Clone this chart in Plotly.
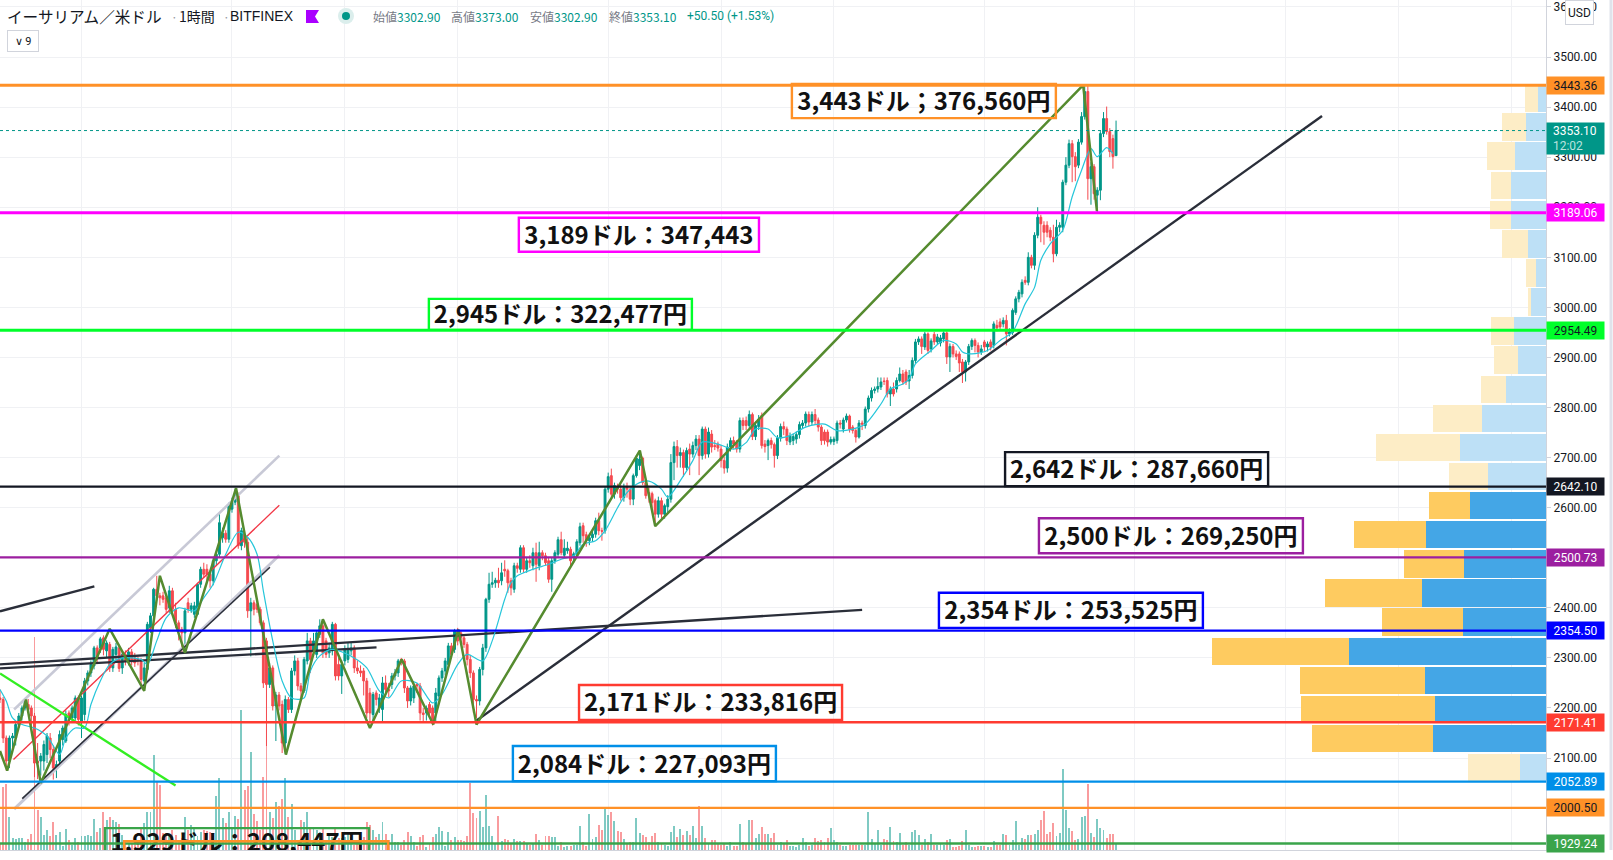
import plotly.graph_objects as go

# ---------------------------------------- CANDLES (1h, ETH/USD) ----------------------------------------
opens = [
    2220,2217,2140,2094,2140,2140,2167,2184,2200,2207, 2200,2184,2094,2094,2094,2107,2140,2117,2080,2094,
    2137,2134,2190,2180,2180,2220,2174,2187,2254,2270, 2284,2320,2320,2340,2314,2327,2280,2307,2320,2280,
    2307,2294,2312,2300,2297,2294,2254,2277,2360,2384, 2437,2424,2424,2420,2400,2434,2397,2370,2357,2350,
    2410,2397,2387,2387,2447,2477,2477,2467,2454,2494, 2507,2540,2549,2537,2597,2611,2624,2524,2547,2531,
    2394,2410,2407,2397,2370,2334,2247,2280,2204,2226, 2207,2130,2217,2197,2274,2294,2244,2234,2294,2334,
    2314,2307,2347,2364,2334,2310,2314,2367,2287,2264, 2294,2297,2314,2320,2280,2274,2274,2254,2230,2187,
    2230,2200,2197,2250,2237,2247,2264,2270,2297,2294, 2240,2214,2220,2247,2244,2190,2190,2207,2200,2190,
    2224,2260,2274,2287,2324,2317,2354,2350,2340,2327, 2297,2270,2217,2214,2277,2320,2417,2447,2450,2455,
    2454,2477,2474,2454,2437,2484,2477,2520,2477,2494, 2484,2510,2484,2510,2504,2494,2457,2494,2507,2536,
    2505,2514,2517,2500,2508,2530,2564,2546,2534,2540, 2547,2574,2554,2554,2637,2664,2627,2642,2637,2620,
    2642,2637,2617,2664,2684,2699,2650,2630,2628,2614, 2587,2614,2587,2602,2617,2690,2722,2704,2710,2680,
    2717,2707,2724,2737,2704,2757,2707,2747,2724,2727, 2717,2694,2679,2721,2734,2729,2717,2774,2774,2764,
    2786,2742,2762,2784,2727,2724,2734,2726,2704,2739, 2762,2757,2731,2734,2737,2746,2764,2769,2786,2771,
    2786,2775,2761,2751,2751,2731,2732,2734,2769,2757, 2775,2783,2761,2754,2741,2769,2764,2797,2819,2834,
    2837,2841,2853,2854,2827,2837,2837,2854,2867,2871, 2853,2864,2894,2931,2937,2921,2947,2917,2946,2931,
    2929,2937,2949,2901,2922,2907,2907,2891,2871,2891, 2922,2934,2924,2911,2931,2921,2931,2924,2964,2971,
    2967,2974,2947,2950,2990,3017,3027,3054,3050,3100, 3084,3144,3180,3164,3164,3154,3140,3107,3160,3160,
    3250,3284,3327,3301,3284,3330,3381,3431,3257,3281, 3224,3234,3347,3377,3351,3337,3302.9]
closes = [
    2217,2140,2094,2140,2144,2167,2184,2200,2215,2197, 2184,2090,2090,2104,2127,2144,2117,2080,2087,2147,
    2160,2187,2184,2200,2220,2177,2220,2254,2270,2287, 2320,2300,2338,2317,2330,2280,2317,2322,2279,2307,
    2294,2312,2294,2290,2294,2257,2280,2367,2384,2437, 2424,2420,2417,2397,2434,2397,2370,2357,2350,2394,
    2397,2404,2404,2447,2477,2467,2467,2454,2494,2507, 2570,2549,2537,2604,2611,2621,2524,2554,2531,2394,
    2410,2397,2397,2370,2250,2247,2280,2204,2226,2204, 2130,2217,2197,2274,2294,2244,2234,2297,2334,2297,
    2334,2350,2364,2310,2307,2320,2367,2264,2264,2287, 2317,2319,2320,2280,2274,2270,2254,2190,2190,2227,
    2217,2220,2250,2237,2234,2264,2270,2294,2294,2240, 2214,2240,2244,2244,2190,2187,2200,2190,2170,2230,
    2260,2274,2294,2324,2307,2354,2334,2340,2327,2297, 2270,2217,2214,2277,2320,2417,2447,2450,2455,2450,
    2470,2474,2450,2440,2484,2479,2520,2477,2494,2490, 2510,2487,2510,2504,2490,2457,2494,2510,2536,2510,
    2519,2519,2494,2508,2532,2562,2544,2534,2540,2547, 2574,2554,2553,2637,2662,2627,2644,2637,2620,2640,
    2637,2617,2664,2699,2697,2650,2624,2628,2610,2587, 2614,2587,2604,2617,2690,2722,2704,2710,2680,2714,
    2707,2724,2737,2704,2757,2707,2751,2721,2722,2719, 2694,2679,2721,2734,2727,2717,2774,2764,2764,2786,
    2742,2764,2777,2724,2722,2734,2726,2704,2739,2762, 2757,2734,2744,2742,2746,2766,2769,2787,2771,2786,
    2774,2761,2734,2734,2731,2736,2737,2769,2767,2775, 2783,2757,2754,2741,2769,2767,2797,2819,2834,2837,
    2842,2851,2852,2827,2837,2827,2854,2867,2851,2851, 2864,2894,2931,2937,2922,2947,2914,2933,2931,2941,
    2939,2949,2901,2922,2907,2902,2889,2871,2891,2922, 2934,2924,2911,2917,2921,2927,2921,2967,2959,2961,
    2974,2947,2951,2994,3017,3030,3050,3050,3100,3084, 3144,3180,3167,3150,3150,3140,3107,3160,3164,3250,
    3284,3327,3301,3281,3330,3381,3431,3257,3281,3227, 3234,3347,3377,3351,3311,3301,3353.1]
highs = [
    2237,2222,2145,2145,2150,2172,2190,2205,2218,2218, 2205,2190,2130,2110,2135,2150,2150,2125,2095,2155,
    2165,2195,2195,2205,2225,2225,2225,2260,2275,2295, 2324,2325,2342,2345,2335,2332,2322,2330,2325,2312,
    2315,2320,2318,2310,2302,2300,2290,2372,2390,2440, 2464,2430,2432,2425,2444,2440,2410,2375,2362,2400,
    2420,2410,2412,2450,2482,2490,2487,2472,2500,2512, 2590,2560,2555,2610,2620,2638,2630,2560,2555,2540,
    2420,2415,2412,2402,2375,2340,2290,2285,2232,2232, 2215,2225,2222,2280,2305,2300,2250,2302,2350,2340,
    2350,2354,2377,2370,2340,2330,2372,2370,2300,2295, 2325,2330,2330,2325,2295,2285,2280,2260,2240,2232,
    2235,2228,2262,2265,2250,2270,2278,2298,2300,2298, 2244,2245,2248,2250,2250,2200,2205,2212,2205,2240,
    2265,2280,2300,2330,2330,2358,2360,2355,2345,2332, 2305,2275,2225,2282,2328,2420,2470,2472,2460,2480,
    2490,2495,2478,2460,2490,2490,2525,2525,2500,2505, 2520,2530,2532,2515,2510,2500,2500,2515,2542,2552,
    2537,2532,2522,2512,2537,2570,2570,2552,2545,2555, 2580,2590,2560,2642,2670,2678,2650,2648,2645,2648,
    2650,2642,2668,2705,2714,2702,2655,2640,2632,2618, 2622,2620,2608,2625,2707,2732,2735,2720,2716,2720,
    2728,2732,2745,2745,2762,2762,2760,2755,2735,2732, 2725,2702,2728,2740,2742,2735,2780,2780,2782,2794,
    2790,2772,2785,2790,2735,2738,2740,2730,2745,2768, 2772,2762,2750,2748,2752,2772,2775,2792,2792,2792,
    2797,2780,2765,2756,2756,2742,2742,2774,2775,2780, 2788,2786,2765,2758,2775,2774,2802,2824,2840,2842,
    2860,2860,2860,2860,2842,2850,2860,2880,2875,2876, 2875,2900,2937,2942,2942,2951,2950,2938,2951,2947,
    2945,2952,2952,2928,2927,2914,2912,2897,2895,2927, 2938,2938,2930,2925,2935,2932,2936,2972,2975,2978,
    2980,2985,2958,2998,3022,3035,3056,3062,3110,3105, 3150,3200,3185,3172,3172,3160,3165,3175,3170,3255,
    3300,3335,3334,3310,3336,3390,3443,3443,3290,3286, 3240,3352,3390,3401,3358,3345,3373]
lows = [
    2210,2130,2075,2080,2115,2125,2160,2175,2195,2190, 2165,2062,2058,2065,2075,2090,2100,2057,2060,2085,
    2125,2130,2165,2170,2175,2165,2140,2175,2245,2262, 2277,2290,2310,2305,2300,2272,2272,2295,2272,2268,
    2285,2285,2285,2282,2285,2240,2234,2270,2350,2375, 2415,2405,2410,2390,2390,2385,2360,2335,2310,2310,
    2390,2390,2380,2385,2440,2460,2455,2440,2445,2485, 2500,2530,2530,2530,2590,2605,2518,2515,2520,2380,
    2303,2385,2390,2365,2240,2124,2240,2195,2134,2195, 2110,2108,2190,2190,2265,2235,2220,2230,2287,2270,
    2305,2300,2340,2300,2300,2300,2305,2255,2255,2228, 2285,2290,2305,2270,2268,2262,2225,2180,2172,2175,
    2205,2190,2172,2230,2222,2238,2255,2262,2285,2230, 2200,2205,2210,2230,2175,2170,2175,2182,2165,2170,
    2215,2252,2265,2280,2300,2310,2325,2330,2320,2285, 2260,2190,2180,2205,2265,2312,2410,2440,2440,2440,
    2445,2462,2430,2425,2430,2470,2470,2470,2470,2480, 2475,2452,2475,2495,2485,2450,2432,2488,2500,2505,
    2498,2508,2480,2490,2500,2524,2530,2522,2525,2532, 2540,2545,2534,2548,2630,2620,2618,2628,2614,2612,
    2620,2605,2605,2660,2675,2645,2618,2610,2595,2564, 2580,2578,2578,2590,2610,2655,2680,2680,2662,2675,
    2665,2700,2715,2665,2696,2698,2700,2710,2715,2712, 2680,2668,2670,2712,2718,2710,2710,2755,2755,2758,
    2735,2735,2755,2718,2710,2695,2718,2680,2697,2732, 2745,2725,2725,2725,2728,2738,2758,2762,2762,2765,
    2765,2752,2725,2726,2722,2726,2725,2728,2758,2750, 2770,2750,2748,2730,2738,2755,2758,2790,2812,2828,
    2830,2835,2845,2820,2803,2822,2830,2850,2845,2845, 2837,2858,2888,2925,2907,2915,2907,2910,2925,2925,
    2922,2930,2887,2871,2900,2895,2871,2849,2852,2885, 2915,2910,2900,2905,2912,2912,2914,2918,2952,2955,
    2960,2924,2942,2945,2985,3010,3020,3045,3044,3078, 3075,3138,3130,3125,3140,3132,3090,3102,3150,3150,
    3244,3278,3250,3252,3278,3325,3375,3215,3205,3215, 3190,3214,3340,3345,3300,3277,3302.9]
volumes = [
    20,190,198,100,35,33,37,37,25,33, 48,639,120,100,46,60,42,85,46,55,
    12,63,30,15,36,23,42,42,45,42, 93,55,65,115,90,100,90,83,77,45,
    30,20,20,25,20,65,82,115,115,285, 205,195,50,52,48,60,45,30,35,100,
    60,75,62,42,55,60,58,55,45,162, 215,97,80,115,65,102,92,420,180,192,
    294,108,87,60,220,315,115,95,145,132, 152,215,100,138,60,30,90,85,115,70,
    65,60,55,62,30,45,40,63,35,35, 38,50,38,15,30,20,38,85,75,60,
    38,48,85,48,30,48,25,23,15,30, 55,42,24,12,38,45,8,18,38,48,
    70,57,12,54,30,38,30,30,27,42, 200,112,95,117,70,165,72,42,20,102,
    27,33,30,20,32,27,27,27,20,15, 20,48,30,15,42,42,39,39,12,24,
    10,12,13,15,15,72,24,12,108,33, 38,75,60,123,105,115,87,58,54,33,
    20,24,24,96,52,44,38,25,42,52, 25,22,15,12,54,72,40,63,44,57,
    45,72,36,132,72,35,20,30,30,18, 15,20,12,24,12,12,78,25,17,90,
    90,37,48,70,48,48,37,52,15,24, 18,30,12,12,8,15,36,24,12,15,
    36,27,30,24,36,66,30,24,15,12, 12,15,15,15,15,15,15,114,33,18,
    60,15,33,30,69,27,24,51,15,24, 15,54,60,45,15,33,24,48,15,15,
    18,15,30,33,10,8,12,27,60,15, 9,9,12,12,12,9,9,27,15,15,
    48,45,15,30,87,15,36,33,45,45, 48,60,90,117,48,54,81,42,51,243,
    120,66,57,30,33,99,102,198,51,39, 93,66,60,36,48,48,18]

# ---------------------------------------- MOVING AVERAGE (9) ----------------------------------------
ma_bar = [0,2,4,7,11,15,19,21,24,27,29,32,35,39,45,47,50,53,57,62,65,68,72,76,79,82,84,87,90,93,97,99,102,106,113,117,121,124,128,133,138,141,146,149,154,157,
          161,163,165,170,175,179,183,186,190,193,197,200,204,207,211,213,217,221,224,229,234,238,241,245,248,252,257,263,267,272,276,281,284,
          288,290,292,297,301,305,307,310,315,319,323,327,330,332,335,339,342,345,348,350,353,355]
ma_val = [2237,2214,2180,2167,2160,2144,2107,2140,2160,2160,2207,2254,2287,2300,2297,2287,2334,2380,2400,2394,2420,2447,2507,2551,2541,2507,2434,2334,2254,2220,2220,2274,2304,2317,2300,2280,2234,2220,2254,2250,2210,2227,2287,2307,2294,2334,
          2417,2450,2464,2477,2487,2497,2504,2527,2534,2554,2600,2630,2650,2653,2637,2621,2654,2694,2731,2727,2717,2730,2757,2757,2740,2744,2761,2767,2754,2757,2767,2807,2837,
          2847,2857,2887,2914,2934,2927,2911,2907,2914,2934,2951,3007,3040,3094,3127,3154,3221,3274,3317,3301,3319,3307]

# ---------------------------------------- ZIGZAG + TREND LINES ----------------------------------------
zigzag_bar = [0,2.3,8.3,13,35,46,51,59,75.3,91.2,103,118,128.1,138.2,146.2,152,204.1,209,345.5,349.9]
zigzag_val = [2114,2075,2217,2050,2358,2234,2464,2310,2639,2107,2377,2160,2297,2167,2357,2167,2714,2563,3444,3192]

trend_bars = [[151.8,421.7],[0,30.1],[4.5,89.1],[4.5,89.1],[4.3,89.1],[7.1,86.1],[0,56],[0,275],[0,120.1]]
trend_vals = [[2174,3382],[2393,2443],[2197,2704],[1998,2505],[2097,2605],[2019,2481],[2269,2045],[2287,2396],[2279,2321]]
trend_colors = ["#2a2e39","#2a2e39","#c8c9d6","#c8c9d6","#f23645","#2a2e39","#33ee22","#2a2e39","#2a2e39"]
trend_widths = [2.4,2.4,2.6,3,1.3,1.6,2.4,2.4,2.4]

# ---------------------------------------- HORIZONTAL LEVELS ----------------------------------------
level_prices = [3443.36,3189.06,2954.49,2642.10,2500.73,2354.50,2171.41,2052.89,2000.50,1929.24]
level_colors = ["#ff9127","#ff00ff","#00ff2a","#131722","#9c1fa0","#0000ff","#ff3b30","#008fe8","#ff9127","#3aa44a"]
level_fonts = ["#131722","#ffffff","#131722","#ffffff","#ffffff","#ffffff","#ffffff","#ffffff","#131722","#ffffff"]
level_widths = [3,3,3,2.4,2.4,2.4,2.4,2.4,2.4,2.4]

# ---------------------------------------- VOLUME PROFILE ----------------------------------------
profile_prices = [3418,3360,3302,3243,3185,3127,3069,3011,2953,2895,2836,2778,2720,2662,2604,2546,2488,2430,2372,2313,2255,2197,2139,2081]
profile_up = [8,20,31,35,35,18,10,15,32,28,40,64,86,58,76,120,82,124,83,197,121,111,113,26]
profile_down = [13,24,28,20,21,26,10,3,23,24,25,49,84,39,41,72,60,97,81,137,125,134,121,52]

# ---------------------------------------- TEXT BOXES ----------------------------------------
box_texts = ["3,443ドル；376,560円","3,189ドル：347,443","2,945ドル：322,477円","2,642ドル：287,660円","2,500ドル：269,250円",
             "2,354ドル：253,525円","2,171ドル：233,816円","2,084ドル：227,093円","1,929ドル：208,447円"]
box_x0 = [252.6,165.5,136.8,320.6,331.4,299.5,184.7,163.6,33.5]
box_x1 = [336.8,242.1,220.7,404.5,415.6,383.7,268.6,247.5,117.7]
box_y0 = [3378,3111,2955,2643,2509,2360,2176,2054,1888]
box_y1 = [3446,3179,3017,2711,2579,2430,2246,2124,1960]
box_ty = [3406,3139,2980,2671,2538,2389,2205,2083,1926]
box_colors = ["#ff9127","#ff00ff","#00ff2a","#131722","#9c1fa0","#0000ff","#ff3b30","#008fe8","#3aa44a"]

price_ticks = [2000,2100,2200,2300,2400,2500,2600,2700,2800,2900,3000,3100,3200,3300,3400,3500,3600]
time_ticks = [26,74,110,146,194,230,266,314,362,410,446,482]

UP = "#009688"
DOWN = "#f44a4f"
GRID = "#f0f1f4"
AXIS = "#d1d4dc"
TEXT = "#131722"
PLOT_W = 1546
PLOT_H = 850


def px(x):
    return x / PLOT_W


def py(y):
    return 1 - y / PLOT_H


bars = list(range(len(closes)))
fig = go.Figure()

# volume on the base axes so that everything else sits on top of it
vol_colors = ["rgba(0,150,136,0.5)" if c >= o else "rgba(244,74,79,0.55)" for o, c in zip(opens, closes)]
fig.add_trace(go.Bar(x=bars, y=volumes, marker_color=vol_colors, marker_line_width=0, width=0.62, xaxis="x", yaxis="y"))

# volume profile, growing leftwards from the price axis
va_colors_up = ["#44a6e6" if 2110 < p < 2633 else "#bde0f6" for p in profile_prices]
va_colors_down = ["#fecb60" if 2110 < p < 2633 else "#fdedc6" for p in profile_prices]
fig.add_trace(go.Bar(y=profile_prices, x=profile_up, orientation="h", width=55, marker_color=va_colors_up, marker_line_width=0, xaxis="x2", yaxis="y2"))
fig.add_trace(go.Bar(y=profile_prices, x=profile_down, orientation="h", width=55, marker_color=va_colors_down, marker_line_width=0, xaxis="x2", yaxis="y2"))

for bx, by, col, w in zip(trend_bars, trend_vals, trend_colors, trend_widths):
    fig.add_trace(go.Scatter(x=bx, y=by, mode="lines", line=dict(color=col, width=w), xaxis="x", yaxis="y2"))

fig.add_trace(go.Candlestick(x=bars, open=opens, high=highs, low=lows, close=closes, whiskerwidth=0,
                             increasing=dict(line=dict(color=UP, width=1), fillcolor=UP),
                             decreasing=dict(line=dict(color=DOWN, width=1), fillcolor=DOWN),
                             xaxis="x", yaxis="y2"))
fig.add_trace(go.Scatter(x=ma_bar, y=ma_val, mode="lines", line=dict(color="#26c6da", width=1.2, shape="spline", smoothing=0.8), xaxis="x", yaxis="y2"))
fig.add_trace(go.Scatter(x=zigzag_bar, y=zigzag_val, mode="lines", line=dict(color="#558b2f", width=2.5), xaxis="x", yaxis="y2"))
fig.add_trace(go.Scatter(x=[(a + b) / 2 for a, b in zip(box_x0, box_x1)], y=box_ty, mode="text", text=["<b>" + t + "</b>" for t in box_texts],
                         textposition="middle center", textfont=dict(family="Noto Sans CJK JP", size=24, color="#111111"),
                         cliponaxis=True, xaxis="x", yaxis="y2"))

shapes = []
for p, col, w in zip(level_prices, level_colors, level_widths):
    shapes.append(dict(type="line", xref="paper", x0=0, x1=1, yref="y2", y0=p, y1=p, line=dict(color=col, width=w), layer="above"))
shapes.append(dict(type="line", xref="paper", x0=0, x1=1, yref="y2", y0=closes[-1], y1=closes[-1], line=dict(color=UP, width=1, dash="dot"), layer="above"))
for x0, x1, y0, y1, col in zip(box_x0, box_x1, box_y0, box_y1, box_colors):
    shapes.append(dict(type="rect", xref="x", yref="y2", x0=x0, x1=x1, y0=y0, y1=y1, line=dict(color=col, width=2.4), layer="above"))
# box hidden under the pane edge
shapes.append(dict(type="rect", xref="x", yref="y2", x0=39.6, x1=123.8, y0=1860, y1=1934, line=dict(color="#ff9127", width=2.4), layer="above"))
# header icons
shapes.append(dict(type="circle", xref="paper", yref="paper", x0=px(338), x1=px(354), y0=py(24), y1=py(8), fillcolor="#dbeeec", line_width=0, layer="above"))
shapes.append(dict(type="circle", xref="paper", yref="paper", x0=px(342), x1=px(350), y0=py(20), y1=py(12), fillcolor=UP, line_width=0, layer="above"))
shapes.append(dict(type="path", xref="paper", yref="paper", fillcolor="#aa00ff", line_width=0, layer="above",
                   path="M %f %f L %f %f L %f %f L %f %f L %f %f Z" % (px(306), py(10), px(319), py(10), px(315), py(16.5), px(319), py(23), px(306), py(23))))
# thin strip at the window edge
shapes.append(dict(type="line", xref="paper", yref="paper", x0=px(1611), x1=px(1611), y0=0, y1=py(0), line=dict(color="#e0e3eb", width=3)))

notes = []


def note(text, x, y, size=12, color=TEXT, family="Noto Sans CJK JP", **kw):
    notes.append(dict(text=text, xref="paper", yref="paper", x=px(x), y=py(y), xanchor="left", yanchor="middle",
                      showarrow=False, font=dict(size=size, color=color, family=family), **kw))


note("イーサリアム／米ドル", 5, 16.5, size=15.6)
note("·", 169, 16.5, size=12, color="#9598a1")
note("1時間", 177, 16.5, size=14)
note("·", 221, 16.5, size=12, color="#9598a1")
note("BITFINEX", 228, 16.5, size=14, family="Liberation Sans")
for i, (lab, val) in enumerate(zip(["始値", "高値", "安値", "終値"], [opens[-1], highs[-1], lows[-1], closes[-1]])):
    note("<span style='color:#787b86'>%s</span>%.2f" % (lab, val), [371, 449, 528, 607][i], 16.5, color=UP)
note("+50.50 (+1.53%)", 685, 16.5, color=UP, family="Roboto")
notes.append(dict(text="∨ 9", xref="paper", yref="paper", x=px(6.5), y=py(41), xanchor="left", yanchor="middle", showarrow=False,
                  font=dict(size=11, color=TEXT, family="Roboto"), bordercolor=AXIS, borderwidth=1, width=28, height=18, bgcolor="#ffffff"))
notes.append(dict(text="USD", xref="paper", yref="paper", x=px(1565), y=py(13), xanchor="left", yanchor="middle", showarrow=False,
                  font=dict(size=12, color=TEXT, family="Roboto"), bordercolor=AXIS, borderwidth=1, width=25, height=21, bgcolor="#ffffff"))

for p, col, fc in zip(level_prices, level_colors, level_fonts):
    notes.append(dict(text="%.2f" % p, xref="paper", yref="y2", x=1, y=p, xanchor="left", yanchor="middle", showarrow=False,
                      font=dict(size=12, color=fc, family="Roboto"), bgcolor=col, width=57, height=17, borderpad=0))
notes.append(dict(text="&nbsp;&nbsp;%.2f<br>&nbsp;&nbsp;<span style='color:#b9e3df'>12:02</span>" % closes[-1], xref="paper", yref="y2", x=1, y=closes[-1], xanchor="left", yanchor="top", yshift=9, showarrow=False,
                  align="left", font=dict(size=12, color="#ffffff", family="Roboto"), bgcolor=UP, width=57, height=31, borderpad=0))

fig.update_layout(
    width=1613, height=860, autosize=False,
    margin=dict(l=0, r=67, t=0, b=10, pad=0),
    paper_bgcolor="#ffffff", plot_bgcolor="#ffffff",
    showlegend=False, barmode="stack", hovermode=False,
    boxgap=0.3, boxgroupgap=0.15,
    shapes=shapes, annotations=notes,
    xaxis=dict(range=[0, PLOT_W / 3.135], tickvals=time_ticks, showticklabels=False, showgrid=True, gridcolor=GRID, zeroline=False,
               rangeslider=dict(visible=False), showline=True, linecolor=AXIS, ticks="", fixedrange=True),
    xaxis2=dict(range=[PLOT_W, 0], overlaying="x", anchor="y2", visible=False, fixedrange=True),
    yaxis=dict(range=[0, PLOT_H * 3], visible=False, fixedrange=True),
    yaxis2=dict(range=[3500 - (PLOT_H - 57) * 1.997, 3500 + 57 * 1.997], overlaying="y", side="right", anchor="x", tickvals=price_ticks, tickformat=".2f",
                tickfont=dict(size=12, color=TEXT, family="Roboto"), ticks="outside", ticklen=4, tickcolor=AXIS, showgrid=True, gridcolor=GRID,
                zeroline=False, showline=True, linecolor=AXIS, fixedrange=True),
)

fig.write_html("out.html", config={"displayModeBar": False},
               post_script="document.body.style.margin='0';document.body.style.overflow='hidden';")
